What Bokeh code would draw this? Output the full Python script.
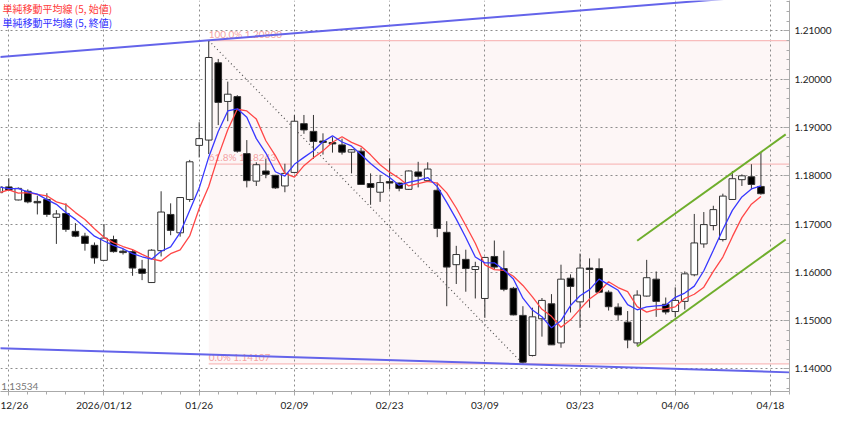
import numpy as np
import pandas as pd
from bokeh.plotting import figure
from bokeh.models import Range1d, FixedTicker, NumeralTickFormatter, Label, ColumnDataSource
from bokeh.embed import file_html
from bokeh.resources import INLINE
from bokeh.core.properties import value

# ---- candle data (index = trading-day slot) ----
opens = [1.1765, 1.1777, 1.1750, 1.1768, 1.1747, 1.1751, 1.1714, 1.1722, 1.1685, 1.1675,
         1.1656, 1.1625, 1.1668, 1.1644, 1.1643, 1.1607, 1.1579, 1.1645, 1.1720, 1.1682,
         1.1751, 1.1863, 1.1874, 1.2034, 1.1954, 1.1964, 1.1846, 1.1789, 1.1810, 1.1801,
         1.1779, 1.1807, 1.1908, 1.1892, 1.1872, 1.1869, 1.1864, 1.1849, 1.1851, 1.1784,
         1.1766, 1.1788, 1.1785, 1.1772, 1.1808, 1.1790, 1.1770, 1.1683, 1.1616, 1.1627,
         1.1606, 1.1546, 1.1633, 1.1608, 1.1567, 1.1511, 1.1428, 1.1504, 1.1535, 1.1454,
         1.1588, 1.1539, 1.1609, 1.1608, 1.1559, 1.1528, 1.1497, 1.1454, 1.1551, 1.1586,
         1.1534, 1.1519, 1.1540, 1.1595, 1.1659, 1.1697, 1.1668, 1.1751, 1.1792, 1.1798,
         1.1778]
highs = [1.1782, 1.1795, 1.1776, 1.1772, 1.1759, 1.1764, 1.1729, 1.1743, 1.1702, 1.1682,
         1.1662, 1.1700, 1.1676, 1.1649, 1.1646, 1.1626, 1.1648, 1.1768, 1.1743, 1.1756,
         1.1833, 1.1911, 1.2080, 1.2042, 1.1995, 1.1967, 1.1874, 1.1828, 1.1835, 1.1802,
         1.1825, 1.1926, 1.1926, 1.1926, 1.1888, 1.1880, 1.1877, 1.1855, 1.1858, 1.1805,
         1.1802, 1.1836, 1.1786, 1.1811, 1.1829, 1.1828, 1.1786, 1.1706, 1.1655, 1.1647,
         1.1622, 1.1632, 1.1666, 1.1645, 1.1570, 1.1530, 1.1527, 1.1547, 1.1555, 1.1616,
         1.1596, 1.1639, 1.1629, 1.1629, 1.1563, 1.1536, 1.1520, 1.1563, 1.1626, 1.1602,
         1.1548, 1.1569, 1.1602, 1.1721, 1.1725, 1.1738, 1.1763, 1.1810, 1.1803, 1.1824,
         1.1848]
lows = [1.1760, 1.1769, 1.1749, 1.1743, 1.1720, 1.1715, 1.1659, 1.1684, 1.1673, 1.1645,
        1.1618, 1.1624, 1.1641, 1.1637, 1.1593, 1.1584, 1.1578, 1.1633, 1.1677, 1.1674,
        1.1746, 1.1838, 1.1845, 1.1905, 1.1913, 1.1848, 1.1776, 1.1779, 1.1795, 1.1773,
        1.1766, 1.1805, 1.1887, 1.1835, 1.1844, 1.1848, 1.1844, 1.1805, 1.1782, 1.1740,
        1.1746, 1.1772, 1.1768, 1.1771, 1.1776, 1.1788, 1.1673, 1.1530, 1.1576, 1.1560,
        1.1546, 1.1506, 1.1607, 1.1561, 1.1511, 1.14107, 1.1426, 1.1467, 1.1450, 1.1444,
        1.1517, 1.1485, 1.1527, 1.1557, 1.1521, 1.1500, 1.1443, 1.1448, 1.1550, 1.1508,
        1.1513, 1.1507, 1.1523, 1.1592, 1.1651, 1.1687, 1.1664, 1.1750, 1.1779, 1.1772,
        1.1761]
closes = [1.1777, 1.1770, 1.1774, 1.1746, 1.1744, 1.1720, 1.1721, 1.1689, 1.1675, 1.1660,
          1.1630, 1.1671, 1.1643, 1.1641, 1.1609, 1.1598, 1.1646, 1.1725, 1.1687, 1.1755,
          1.1829, 1.1877, 1.2045, 1.1952, 1.1969, 1.1851, 1.1790, 1.1823, 1.1803, 1.1775,
          1.1805, 1.1913, 1.1895, 1.1871, 1.1869, 1.1866, 1.1849, 1.1854, 1.1782, 1.1776,
          1.1786, 1.1785, 1.1774, 1.1810, 1.1799, 1.1814, 1.1691, 1.1611, 1.1637, 1.1608,
          1.1612, 1.1631, 1.1611, 1.1565, 1.1512, 1.1414, 1.1508, 1.1542, 1.1450, 1.1586,
          1.1571, 1.1609, 1.1606, 1.1559, 1.1529, 1.1512, 1.1460, 1.1553, 1.1589, 1.1540,
          1.1518, 1.1542, 1.1597, 1.1661, 1.1699, 1.1730, 1.1758, 1.1794, 1.1800, 1.1782,
          1.1763]

# ---- axis ticks ----
date_tick_idx = [1, 11, 21, 31, 41, 51, 61, 71, 81]
date_tick_labels = ["12/26", "2026/01/12", "01/26", "02/09", "02/23", "03/09", "03/23", "04/06", "04/18"]
price_ticks = [1.14, 1.15, 1.16, 1.17, 1.18, 1.19, 1.20, 1.21]
axis_min_label = "1.13534"

# ---- drawings ----
fib_start_idx = 22
fib_end_idx = 55
fib_names = ["100.0%", "61.8%", "0.0%"]
fib_levels = [1.20800, 1.18243, 1.14107]
trend_x = [0, 83]
trend_upper_y = [1.2046, 1.2177]
trend_lower_y = [1.1443, 1.1393]
channel_x = [67, 82.6]
channel_upper_y = [1.16656, 1.18857]
channel_lower_y = [1.14467, 1.16681]

x_idx = list(range(len(opens)))
df = pd.DataFrame(dict(x=x_idx, open=opens, high=highs, low=lows, close=closes))
df["top"] = df[["open", "close"]].max(axis=1)
df["bottom"] = df[["open", "close"]].min(axis=1)
df["fill"] = np.where(df["close"] >= df["open"], "#ffffff", "#000000")
df["ma_open"] = df["open"].rolling(5, min_periods=1).mean()
df["ma_close"] = df["close"].rolling(5, min_periods=1).mean()
src = ColumnDataSource(df)

p = figure(width=834, height=413, output_backend="svg", toolbar_location=None,
           x_range=Range1d(0.13, 83.0), y_range=Range1d(1.13534, 1.2163),
           y_axis_location="right", min_border_left=0, min_border_top=0,
           min_border_right=0, min_border_bottom=0)
p.outline_line_color = None
p.background_fill_color = "#ffffff"

# grid
p.xgrid.ticker = FixedTicker(ticks=date_tick_idx)
p.ygrid.ticker = FixedTicker(ticks=price_ticks)
for g in (p.xgrid, p.ygrid):
    g.grid_line_color = "#8c8c8c"
    g.grid_line_dash = "2 3"
    g.grid_line_width = 1

# axes
p.xaxis.ticker = FixedTicker(ticks=date_tick_idx, minor_ticks=list(range(1, 84, 2)))
p.xaxis.major_label_overrides = {t: l for t, l in zip(date_tick_idx, date_tick_labels)}
p.yaxis.ticker = FixedTicker(ticks=price_ticks, minor_ticks=list(np.round(np.arange(1.136, 1.217, 0.002), 3)))
p.yaxis.formatter = NumeralTickFormatter(format="0.00000")
for ax in (p.xaxis, p.yaxis):
    ax.axis_line_color = "#aaaaaa"
    ax.major_tick_line_color = "#aaaaaa"
    ax.minor_tick_line_color = "#aaaaaa"
    ax.major_label_text_font = "Lato"
    ax.major_label_text_font_size = "10px"
    ax.major_label_text_color = "#222222"
    ax.major_label_standoff = 3
p.xaxis.major_tick_in = 0
p.xaxis.major_tick_out = 4
p.xaxis.minor_tick_in = 0
p.xaxis.minor_tick_out = 3
p.yaxis.major_tick_in = 6
p.yaxis.major_tick_out = 0
p.yaxis.minor_tick_in = 3
p.yaxis.minor_tick_out = 0
p.yaxis.major_label_standoff = 5

# Fibonacci retracement
p.quad(left=[fib_start_idx], right=[84], bottom=[fib_levels[2]], top=[fib_levels[0]],
       fill_color="#fdf6f6", line_color=None, level="image")
p.segment(x0=[fib_start_idx] * 3, x1=[84] * 3, y0=fib_levels, y1=fib_levels,
          line_color="#f8bcbc", line_width=1.2)
fib_src = ColumnDataSource(dict(x=[fib_start_idx] * 3, y=fib_levels,
                                t=[f"{n} {v:.5f}" for n, v in zip(fib_names, fib_levels)]))
p.text(x="x", y="y", text="t", source=fib_src, text_color="#f4a3a3",
       text_font=value("Lato"), text_font_size="10px", text_baseline="bottom",
       text_align="left", y_offset=-1)
p.segment(x0=[fib_start_idx], y0=[fib_levels[0]], x1=[fib_end_idx], y1=[fib_levels[2]],
          line_color="#555555", line_dash="1 3", line_width=1.2)

# candles
p.segment(x0="x", y0="low", x1="x", y1="high", source=src, line_color="#333333", line_width=1)
p.vbar(x="x", width=0.7, top="top", bottom="bottom", fill_color="fill",
       line_color="#333333", line_width=1, source=src)

# moving averages
p.line(x="x", y="ma_open", source=src, line_color="#ff4747", line_width=1.3)
p.line(x="x", y="ma_close", source=src, line_color="#3838ff", line_width=1.3)

# trend lines & channel
p.line(trend_x, trend_upper_y, line_color="#6464ea", line_width=2)
p.line(trend_x, trend_lower_y, line_color="#6464ea", line_width=2)
p.line(channel_x, channel_upper_y, line_color="#6fae2c", line_width=2)
p.line(channel_x, channel_lower_y, line_color="#6fae2c", line_width=2)

# legend texts
p.add_layout(Label(x=0.35, y=1.2161, text="単純移動平均線 (5, 始値)", text_color="#ff3a3a",
                   text_font="Noto Sans CJK JP", text_font_size="10px", text_baseline="top"))
p.add_layout(Label(x=0.35, y=1.2133, text="単純移動平均線 (5, 終値)", text_color="#2f2fff",
                   text_font="Noto Sans CJK JP", text_font_size="10px", text_baseline="top"))
p.add_layout(Label(x=0.2, y=1.1357, text=axis_min_label, text_color="#777777",
                   text_font="Lato", text_font_size="10px", text_baseline="bottom"))

open("out.html", "w").write(file_html(p, INLINE))
